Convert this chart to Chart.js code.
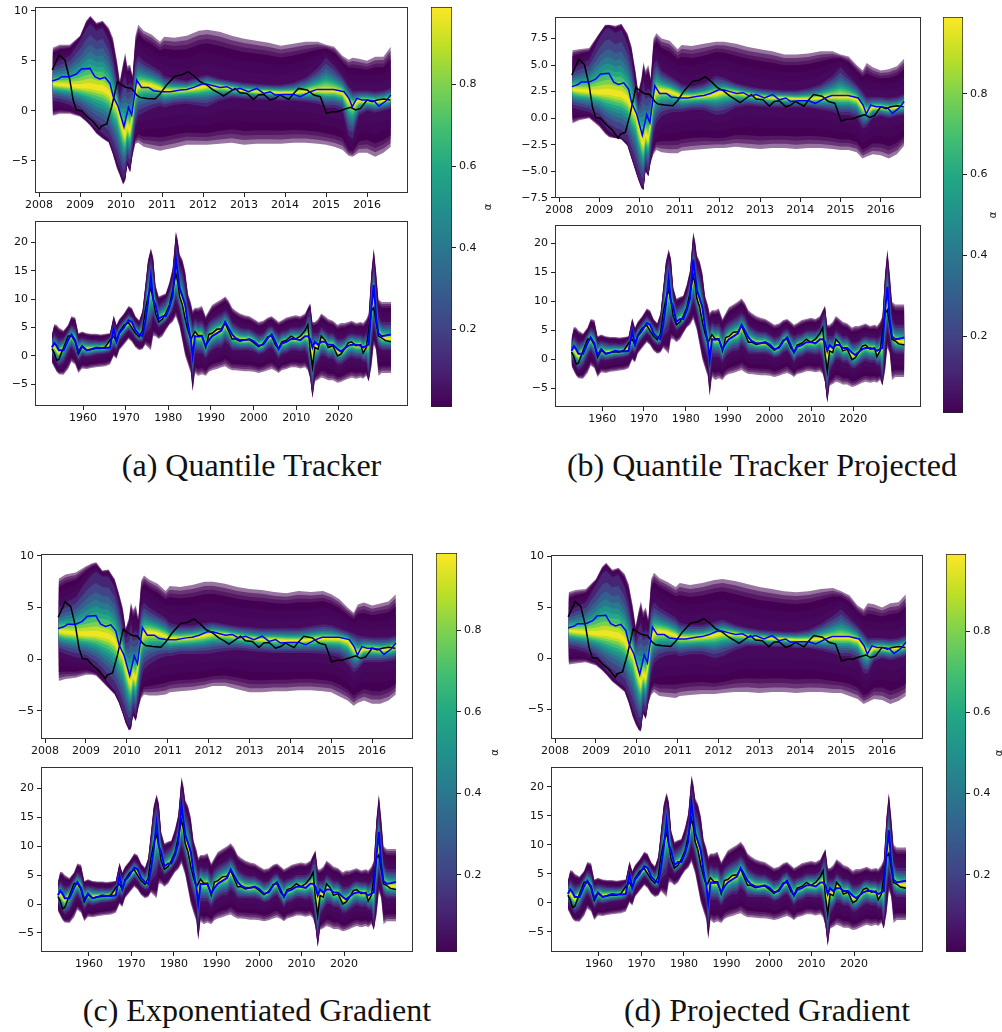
<!DOCTYPE html>
<html><head><meta charset="utf-8">
<script src="https://cdn.jsdelivr.net/npm/chart.js@4.4.1/dist/chart.umd.min.js"></script>
<style>
html,body{margin:0;padding:0;background:#fff;}
body{width:1002px;height:1032px;position:relative;overflow:hidden;}
canvas{position:absolute;}
.cap{position:absolute;font-family:"Liberation Serif","Times New Roman",serif;font-size:32px;line-height:32px;white-space:nowrap;color:#111;transform:translateX(-50%);}
</style></head><body>
<script>
// ---------------- DATA ----------------
// Top subplots (2008-2016)
const TOP_T = [2008.33,2008.5,2008.75,2009.0,2009.15,2009.25,2009.4,2009.55,2009.7,2009.8,2009.9,2009.97,2010.05,2010.1,2010.15,2010.22,2010.28,2010.35,2010.42,2010.55,2010.75,2010.95,2011.05,2011.3,2011.6,2011.9,2012.1,2012.4,2012.7,2013.0,2013.3,2013.6,2013.9,2014.2,2014.5,2014.8,2015.0,2015.2,2015.4,2015.55,2015.65,2015.8,2016.0,2016.2,2016.4,2016.58];
const TOP_CORE = [2.7,2.6,2.5,2.4,2.4,2.4,2.3,2.2,1.8,1.0,0.5,-0.8,-2.0,-2.5,-1.5,-2.0,-0.5,2.0,2.5,2.6,2.5,2.2,2.0,2.0,2.1,2.3,2.5,2.4,2.2,2.0,1.9,1.9,1.8,1.8,1.9,2.0,2.0,2.0,1.8,1.0,0.6,1.0,1.0,0.9,1.0,1.2];

const TOP_UP_A = [6.3,6.6,6.6,7.5,9.0,9.5,8.8,9.0,8.3,7.3,5.0,3.0,4.8,5.8,4.5,4.6,3.5,7.5,8.6,8.0,7.6,6.9,7.4,7.3,7.5,8.0,8.1,7.9,7.5,7.2,7.0,6.8,6.5,6.7,6.9,6.9,6.6,6.4,5.5,5.1,5.3,5.2,5.0,5.4,5.4,6.4];
const TOP_LO_A = [-0.5,-0.3,-0.3,-0.6,-1.1,-1.5,-2.3,-2.8,-3.2,-4.4,-5.8,-6.5,-7.4,-7.0,-5.5,-6.2,-4.5,-3.3,-3.2,-3.6,-3.8,-4.0,-3.9,-3.7,-3.4,-3.4,-3.4,-3.3,-3.2,-3.4,-3.3,-3.3,-3.3,-3.2,-3.2,-3.3,-3.4,-3.6,-3.9,-4.5,-4.6,-4.2,-4.2,-4.6,-4.2,-3.6];
const TOP_BUP_A = [4.6,5.0,5.5,7.0,8.2,8.7,8.0,8.3,7.0,5.5,3.0,1.5,3.0,3.5,2.5,2.8,2.5,5.0,5.5,5.0,4.5,4.0,3.5,3.2,3.0,3.4,3.6,3.2,3.0,2.8,2.7,2.6,2.6,2.8,3.3,4.3,5.3,4.5,3.5,2.5,2.0,2.0,2.0,1.9,2.0,2.3];
const TOP_BLO_A = [1.0,0.9,0.6,0.0,-0.7,-1.2,-1.8,-2.3,-2.8,-3.8,-5.0,-5.8,-6.8,-6.5,-5.0,-5.6,-3.8,-1.5,-0.5,-0.2,0.2,0.5,0.3,0.6,0.7,0.5,0.4,1.0,1.3,1.2,1.1,1.1,1.0,1.0,0.9,0.7,0.3,0.3,0.0,-2.5,-2.8,-0.5,0.0,-0.2,0.0,0.2];

const TOP_UP_B = [6.4,6.5,6.6,8.0,8.8,8.8,8.7,8.9,8.0,6.8,4.5,2.5,3.8,5.3,4.5,5.0,3.8,7.5,8.0,7.5,7.3,6.5,6.9,6.8,7.0,7.2,7.2,7.0,6.7,6.5,6.3,6.0,6.0,6.1,6.3,6.3,6.0,5.8,5.0,4.5,5.2,4.8,4.5,4.6,4.9,5.6];
const TOP_LO_B = [-0.5,-0.2,0.0,-0.8,-1.5,-1.8,-1.9,-2.0,-2.6,-3.8,-5.0,-5.8,-6.6,-6.8,-5.0,-5.5,-4.2,-3.4,-3.0,-3.2,-3.3,-3.3,-3.1,-3.0,-2.9,-2.8,-2.8,-2.7,-2.8,-2.9,-2.8,-2.8,-2.9,-2.8,-2.8,-2.9,-3.0,-3.0,-3.2,-3.8,-3.6,-3.4,-3.5,-3.8,-3.4,-2.6];
const TOP_BUP_B = [4.6,5.0,5.5,7.5,8.4,8.5,8.0,8.3,7.0,5.5,3.0,1.5,2.5,3.5,2.5,2.8,2.5,5.0,5.5,4.5,4.0,3.5,3.2,3.0,3.3,4.0,3.8,3.3,3.0,2.8,2.7,2.6,2.6,2.8,3.2,4.0,4.8,4.0,3.2,2.5,2.0,2.0,2.0,1.9,2.0,2.3];
const TOP_BLO_B = [1.0,0.8,0.6,0.0,-0.8,-1.2,-1.6,-1.8,-2.3,-3.5,-4.6,-5.5,-6.3,-6.5,-4.6,-5.2,-3.5,-1.5,-0.5,0.2,0.5,0.6,0.6,0.8,0.8,0.3,0.4,1.0,1.2,1.1,1.0,1.0,1.0,1.0,0.8,0.6,0.3,0.3,0.0,-1.0,-0.8,0.0,0.2,0.0,0.2,0.3];

const TOP_UP_C = [7.8,8.2,8.4,9.0,9.3,9.4,8.6,8.7,7.8,6.5,5.0,3.0,4.0,5.5,4.8,5.2,4.0,7.6,8.1,7.7,7.3,6.6,7.1,7.0,7.2,7.5,7.5,7.3,7.0,6.8,6.7,6.5,6.4,6.6,6.5,6.6,6.3,5.8,5.0,4.5,5.3,5.5,5.2,5.4,5.6,6.3];
const TOP_LO_C = [-2.1,-1.9,-1.8,-1.5,-1.5,-1.6,-2.2,-2.8,-3.4,-4.2,-5.3,-6.2,-6.9,-6.8,-5.5,-6.0,-4.8,-3.8,-3.4,-3.5,-3.5,-3.4,-3.2,-3.1,-3.0,-2.8,-2.6,-2.6,-2.9,-3.2,-3.2,-3.1,-3.1,-3.0,-3.0,-3.1,-3.2,-3.6,-4.0,-4.5,-4.2,-4.0,-4.3,-4.3,-4.0,-3.4];
const TOP_BUP_C = [5.0,5.5,6.0,7.5,8.2,8.5,8.0,8.0,7.0,5.5,3.5,2.0,2.5,3.5,2.5,2.8,2.5,5.0,5.5,5.0,4.5,4.0,3.5,3.3,3.3,3.5,3.6,3.4,3.2,3.1,3.0,3.0,3.0,3.0,3.2,3.4,3.3,3.0,2.7,2.5,2.3,2.2,2.1,2.1,2.1,2.3];
const TOP_BLO_C = [0.8,0.5,0.2,0.0,-0.5,-0.8,-1.5,-2.3,-3.0,-3.8,-5.0,-5.8,-6.5,-6.3,-5.0,-5.5,-4.0,-2.0,-1.0,-0.5,0.0,0.3,0.3,0.5,0.5,0.5,0.6,0.8,0.9,0.8,0.7,0.6,0.6,0.6,0.6,0.5,0.4,0.2,-0.5,-1.3,-1.0,-0.3,-0.3,-0.3,-0.2,-0.1];

const TOP_UP_D = [6.5,6.7,6.8,7.8,9.0,9.4,8.7,8.9,8.3,7.3,5.2,3.2,4.8,5.6,4.6,5.0,3.8,7.8,8.4,7.9,7.5,7.0,7.4,7.2,7.4,7.7,7.8,7.6,7.3,7.0,6.8,6.6,6.5,6.6,6.8,6.9,6.6,6.2,5.2,4.8,5.4,5.3,5.0,5.4,5.5,6.3];
const TOP_LO_D = [-0.6,-0.5,-0.4,-0.7,-1.2,-1.6,-2.3,-2.8,-3.3,-4.4,-5.8,-6.5,-7.1,-7.2,-5.5,-6.0,-4.5,-3.6,-3.3,-3.7,-3.8,-3.9,-3.7,-3.6,-3.5,-3.5,-3.4,-3.3,-3.3,-3.4,-3.3,-3.3,-3.4,-3.3,-3.3,-3.4,-3.4,-3.7,-4.0,-4.5,-4.3,-4.0,-4.1,-4.5,-4.2,-3.7];
const TOP_BUP_D = [4.6,5.0,5.5,7.2,8.3,8.6,8.0,8.2,7.0,5.5,3.2,1.8,3.0,3.5,2.5,2.8,2.5,5.0,5.5,5.0,4.5,4.0,3.5,3.3,3.3,3.6,3.8,3.3,3.0,2.8,2.7,2.6,2.6,2.8,3.4,4.2,4.8,4.0,3.2,2.5,2.0,2.0,2.0,1.9,2.0,2.3];
const TOP_BLO_D = [1.0,0.9,0.6,0.0,-0.7,-1.2,-1.8,-2.3,-2.8,-3.8,-5.0,-5.8,-6.6,-6.6,-5.0,-5.5,-3.8,-1.5,-0.5,0.0,0.3,0.4,0.2,0.4,0.4,0.0,0.2,0.8,1.2,1.2,1.1,1.1,1.0,1.0,0.8,0.5,0.2,0.2,-0.2,-1.5,-1.5,-0.3,0.0,-0.2,0.0,0.2];

const TOP_BLACK_T = [2008.32,2008.49,2008.63,2008.75,2008.83,2008.91,2009.03,2009.17,2009.32,2009.47,2009.52,2009.65,2009.77,2009.91,2010.02,2010.12,2010.26,2010.38,2010.46,2010.63,2010.83,2010.95,2011.11,2011.32,2011.48,2011.64,2011.8,2011.93,2012.09,2012.25,2012.37,2012.5,2012.66,2012.78,2012.9,2013.07,2013.23,2013.35,2013.48,2013.64,2013.76,2013.88,2014.09,2014.21,2014.33,2014.54,2014.7,2014.86,2015.01,2015.15,2015.27,2015.44,2015.6,2015.72,2015.84,2016.0,2016.13,2016.25,2016.41,2016.57];
const TOP_BLACK = [4.07,5.57,5.07,3.07,1.07,0.07,0.0,-0.6,-1.1,-1.87,-1.53,-1.33,0.4,2.9,2.57,2.33,2.23,1.57,1.33,1.23,1.17,1.67,2.57,3.47,3.57,3.9,3.4,2.9,2.57,2.07,1.8,1.47,1.9,2.23,1.8,1.73,1.13,1.57,1.63,1.07,1.23,1.57,1.13,1.73,2.23,2.07,1.57,1.4,-0.27,-0.1,-0.1,0.13,0.33,0.07,0.23,1.07,0.9,1.07,1.17,1.07];
const TOP_BLUE_T = [2008.32,2008.47,2008.55,2008.75,2008.91,2009.03,2009.24,2009.36,2009.48,2009.61,2009.73,2009.81,2009.93,2010.07,2010.18,2010.26,2010.38,2010.5,2010.67,2010.79,2011.0,2011.2,2011.45,2011.6,2011.77,2011.97,2012.09,2012.25,2012.42,2012.58,2012.74,2012.9,2013.11,2013.31,2013.48,2013.64,2013.76,2013.97,2014.21,2014.37,2014.62,2014.78,2015.19,2015.44,2015.56,2015.64,2015.75,2015.88,2016.0,2016.17,2016.29,2016.46,2016.58];
const TOP_BLUE = [2.97,3.17,3.4,3.4,3.67,4.17,4.23,3.4,3.17,3.33,2.73,1.4,0.4,-1.6,0.33,-0.43,3.07,2.33,2.33,2.0,1.9,1.9,2.07,2.13,2.33,2.67,2.67,2.5,2.33,2.4,2.07,2.23,1.9,2.23,1.73,1.9,1.57,1.63,1.63,1.4,1.9,2.13,2.13,1.9,1.23,0.4,1.23,1.07,1.07,0.97,0.47,0.97,1.57];

// Bottom subplots, shared by all four panels (x in the axis units shown by the ticks)
const BOT_T = [1952.70,1953.24,1953.79,1954.33,1955.42,1956.51,1957.27,1958.15,1958.91,1959.78,1960.87,1961.96,1963.05,1964.13,1965.22,1966.31,1967.19,1967.84,1968.49,1969.58,1970.67,1971.43,1972.30,1973.17,1973.94,1974.59,1975.24,1975.90,1976.44,1976.99,1977.75,1978.62,1979.38,1980.25,1981.01,1981.77,1982.21,1982.64,1983.30,1983.95,1984.60,1985.26,1985.70,1986.24,1987.00,1987.87,1988.76,1989.52,1990.28,1991.37,1992.46,1993.32,1994.09,1994.96,1995.72,1996.81,1997.90,1998.99,2000.08,2001.17,2002.26,2003.34,2004.22,2005.09,2005.85,2006.61,2007.70,2008.79,2009.88,2010.97,2012.06,2012.71,2013.26,2013.80,2014.35,2015.11,2015.87,2016.74,2017.50,2018.59,2019.68,2020.44,2021.31,2022.18,2022.95,2024.04,2025.12,2025.67,2026.43,2026.98,2027.63,2028.17,2028.72,2029.27,2030.03,2030.90,2032.21];
const BOT_BLACK = [1.3,0.5,-0.8,-0.6,1.5,3.5,3.6,2.5,0.4,1.6,1.0,1.2,1.3,1.3,1.6,2.8,3.5,2.5,4.2,5.4,5.9,5.0,4.0,3.4,4.5,8.0,10.5,12.0,10.0,7.5,6.0,6.5,7.5,9.0,11.5,14.5,13.0,10.5,9.0,6.5,4.5,3.0,3.5,4.3,3.6,3.6,1.5,3.8,4.0,4.7,4.8,5.8,4.5,3.0,3.0,2.6,2.8,2.9,2.3,1.6,2.2,3.4,3.5,2.0,1.3,2.5,2.8,3.5,3.0,3.5,4.5,5.5,1.0,-2.0,1.5,1.2,3.5,2.8,1.5,1.8,0.0,0.3,1.2,2.3,2.5,1.8,2.0,0.5,1.5,4.5,8.0,8.5,6.0,3.5,3.2,2.7,2.5];
const BOT_BLUE = [1.5,2.3,1.8,1.0,1.0,2.8,3.8,2.8,0.8,1.8,1.0,1.2,1.5,1.4,1.4,1.5,4.8,2.6,4.0,5.0,6.3,6.0,4.5,3.8,3.5,6.0,9.5,14.0,10.0,9.0,6.5,7.0,7.0,8.5,10.5,17.2,14.5,12.0,10.5,9.0,5.5,3.0,0.0,3.5,3.4,3.5,1.8,2.8,3.5,4.0,4.5,6.0,5.0,3.8,3.2,2.8,2.8,3.0,2.6,1.8,2.0,3.2,3.8,2.5,1.2,2.2,2.5,3.0,3.0,2.8,3.5,3.5,3.0,1.5,2.5,2.0,2.5,2.5,2.0,2.0,1.2,0.8,1.3,1.8,2.0,2.0,1.8,1.5,1.8,2.0,8.5,12.5,7.0,4.0,3.5,3.6,3.8];
const BOT_CORE = [1.5,1.6,1.0,0.6,1.5,3.0,3.5,2.8,1.0,1.6,1.2,1.3,1.4,1.4,1.5,2.0,3.5,2.8,4.0,5.0,5.8,5.5,4.2,3.6,4.0,7.0,10.0,12.0,10.0,8.0,6.3,6.8,7.2,8.5,10.5,14.0,13.0,11.0,9.5,7.5,5.0,3.2,2.0,3.8,3.5,3.5,1.8,3.2,3.8,4.3,4.6,5.5,4.8,3.5,3.2,2.8,2.8,2.9,2.5,1.7,2.1,3.2,3.5,2.3,1.4,2.3,2.6,3.1,3.0,3.0,3.5,3.5,2.0,0.5,1.8,1.5,2.8,2.5,1.8,1.9,0.8,0.7,1.2,2.0,2.2,1.9,1.9,1.2,1.7,2.5,8.0,10.0,6.5,4.0,3.3,3.1,3.0];
const BOT_UP = [3.8,5.6,5.5,5.0,4.5,5.5,7.0,6.8,4.0,4.3,4.0,3.9,3.9,3.8,3.9,4.0,7.2,5.5,6.5,7.5,8.8,8.5,7.0,6.3,8.0,12.5,17.0,19.0,17.5,12.5,10.5,10.8,11.0,13.0,15.5,22.0,20.5,18.0,17.0,15.0,11.0,9.5,8.0,8.5,8.5,8.8,7.0,8.0,9.0,9.5,10.0,10.5,9.8,8.5,8.0,7.5,7.2,7.0,6.5,6.0,6.2,6.8,7.0,6.5,6.0,6.3,6.8,7.0,7.2,7.0,7.5,8.5,9.3,6.0,6.0,6.5,7.5,7.0,6.5,6.2,5.5,5.8,5.8,6.0,6.2,5.8,6.0,5.8,6.5,7.5,15.0,19.0,15.0,10.0,9.5,9.5,9.5];
const BOT_LO = [-1.2,-2.0,-2.8,-3.2,-3.3,-2.3,-1.0,-1.5,-3.0,-2.2,-2.3,-2.1,-2.0,-1.9,-1.8,-1.5,0.0,-0.5,1.0,2.0,3.0,2.5,1.5,1.0,1.2,2.0,1.5,1.0,3.5,3.5,3.0,3.5,4.5,5.5,6.0,7.0,6.0,5.0,2.5,0.0,-1.5,-3.0,-6.3,-3.0,-3.5,-3.2,-3.5,-2.8,-2.5,-2.3,-2.0,-1.8,-2.2,-2.5,-2.5,-2.6,-2.7,-2.7,-2.8,-3.0,-2.8,-2.5,-2.3,-2.6,-3.0,-2.5,-2.3,-2.0,-2.0,-2.2,-2.0,-2.5,-4.0,-7.5,-4.5,-4.2,-3.8,-4.0,-4.3,-4.3,-4.7,-4.6,-4.3,-4.0,-3.8,-4.0,-3.8,-4.0,-3.5,-4.5,-2.0,2.0,1.0,-3.5,-3.0,-3.0,-3.0];
const BOT_BUP = [3.0,4.0,3.5,3.0,3.2,4.5,5.5,5.0,3.0,3.2,3.0,2.8,2.8,2.7,2.8,3.5,6.0,4.5,5.5,6.5,7.5,7.0,6.0,5.3,7.0,11.0,15.5,17.5,15.5,11.0,9.0,9.5,10.0,11.5,14.0,20.0,18.5,16.0,15.0,12.5,9.0,7.0,5.5,6.5,6.0,6.2,5.0,6.0,6.5,7.0,7.5,8.0,7.5,6.0,5.5,5.0,4.8,4.8,4.3,3.8,4.0,5.0,5.3,4.5,4.0,4.3,4.5,5.0,5.0,5.0,5.5,7.5,8.0,4.0,4.0,4.0,5.0,4.5,4.0,4.0,3.0,3.0,3.2,3.8,4.0,3.8,3.8,3.5,4.0,5.0,13.0,17.0,12.0,7.0,6.0,6.0,6.0];
const BOT_BLO = [0.2,-0.5,-1.3,-1.8,-1.2,0.5,1.5,0.5,-1.0,0.0,-0.2,0.0,0.2,0.3,0.4,0.6,1.5,1.0,2.5,3.5,4.5,4.0,3.0,2.5,2.5,4.0,4.5,5.0,7.0,6.0,5.0,5.5,6.0,7.0,8.0,10.0,9.0,8.0,5.5,3.0,1.5,0.0,-4.5,0.5,0.5,0.5,-0.5,0.5,1.0,1.5,1.5,2.5,2.0,1.0,1.0,1.0,1.0,1.0,0.8,0.3,0.5,1.2,1.5,0.5,-0.5,0.3,0.5,1.0,1.0,0.8,1.0,0.0,-3.0,-6.5,-2.0,-1.0,0.0,0.0,-0.5,-0.5,-1.5,-1.5,-1.0,-0.5,-0.2,-0.5,-0.5,-1.0,-1.0,-4.0,2.0,5.5,3.5,1.5,1.0,1.0,1.0];

// Tick labels
const TOP_XTICKS = [2008,2009,2010,2011,2012,2013,2014,2015,2016];
const TOP_YTICKS = [-5,0,5,10];
const TOP_YTICKS_B = [-7.5,-5,-2.5,0,2.5,5,7.5];
const BOT_XTICKS = [1960,1970,1980,1990,2000,2010,2020];
const BOT_YTICKS = [-5,0,5,10,15,20];
const CBAR_TICKS = [0.2,0.4,0.6,0.8];
const CBAR_RANGE = [0.01,0.99];
const CAPTIONS = ['(a) Quantile Tracker','(b) Quantile Tracker Projected','(c) Exponentiated Gradient','(d) Projected Gradient'];

// ---------------- STYLE ----------------
const FONT = "'DejaVu Sans', sans-serif";
Chart.defaults.font.family = FONT;
const VIRIDIS = ['#440154','#482475','#414487','#355f8d','#2a788e','#21918c','#22a884','#44bf70','#7ad151','#bddf26','#fde725'];
function hex2rgb(h){return [parseInt(h.slice(1,3),16),parseInt(h.slice(3,5),16),parseInt(h.slice(5,7),16)];}
function viridis(v){v=Math.max(0,Math.min(1,v));const p=v*10,i=Math.min(9,Math.floor(p)),f=p-i;const a=hex2rgb(VIRIDIS[i]),b=hex2rgb(VIRIDIS[i+1]);return 'rgb('+a.map((c,k)=>Math.round(c+(b[k]-c)*f)).join(',')+')';}
const OUTER_F = [1.0,0.9,0.8,0.7,0.5,0.25];
const OUTER_COL = ['rgba(68,1,84,0.55)','rgba(68,1,84,0.55)','rgba(68,1,84,0.55)','#440154','#45065a','#46095d'];
const INNER_G = [1.0,0.82,0.67,0.55,0.45,0.36,0.28,0.2,0.13,0.06];
const INNER_V = [0.1,0.2,0.3,0.4,0.5,0.6,0.7,0.8,0.9,0.98];

const minus = v => (v<0 ? '\u2212' : '') ;
const fmt0 = v => minus(v)+String(Math.abs(v));
const fmt1 = v => minus(v)+Math.abs(v).toFixed(1);

function bandDatasets(T,U,L,C,BU,BL){
  const ds=[]; let order=1000;
  const pts = f => T.map((x,i)=>({x:x,y:f(i)}));
  const add=(up,lo,color)=>{
    const loIdx=ds.length;
    ds.push({data:lo,borderColor:'rgba(0,0,0,0)',borderWidth:0,pointRadius:0,fill:false,order:order});
    ds.push({data:up,borderColor:'rgba(0,0,0,0)',borderWidth:0,pointRadius:0,backgroundColor:color,fill:{target:loIdx},order:order});
    order-=1;
  };
  OUTER_F.forEach((f,k)=>add(pts(i=>BU[i]+f*(U[i]-BU[i])),pts(i=>BL[i]+f*(L[i]-BL[i])),OUTER_COL[k]));
  INNER_G.forEach((g,k)=>add(pts(i=>C[i]+g*(BU[i]-C[i])),pts(i=>C[i]+g*(BL[i]-C[i])),viridis(INNER_V[k])));
  return ds;
}
function lineDs(T,Y,color,w,order){
  return {data:T.map((x,i)=>({x:x,y:Y[i]})),borderColor:color,borderWidth:w,pointRadius:0,fill:false,order:order};
}
const framePlugin={id:'frame',afterDatasetsDraw(chart){const c=chart.ctx,a=chart.chartArea;c.save();c.strokeStyle='#333';c.lineWidth=1;c.strokeRect(Math.round(a.left)+0.5,Math.round(a.top)+0.5,Math.round(a.right-a.left)-1,Math.round(a.bottom-a.top)-1);c.restore();}};

function makeCanvas(l,t,w,h){const c=document.createElement('canvas');c.width=w;c.height=h;c.style.left=l+'px';c.style.top=t+'px';c.style.width=w+'px';c.style.height=h+'px';document.body.appendChild(c);return c;}

function axis(min,max,ticks,fmt,isX){
  const W=40,H=22;
  return {type:'linear',min:min,max:max,
    afterBuildTicks:s=>{s.ticks=ticks.map(v=>({value:v}));},
    afterFit:s=>{ if(isX) s.height=H; else s.width=W; },
    grid:{drawOnChartArea:false,drawTicks:true,tickLength:4,color:'#222',lineWidth:1},
    border:{display:false},
    ticks:{autoSkip:false,maxRotation:0,minRotation:0,padding:isX?2:3,color:'#111',font:{size:11},callback:v=>fmt(v)}};
}
function subplot(box,xr,yr,xt,yt,fy,datasets){
  const W=40,H=22,PT=10,PR=10;
  const [l,t,r,b]=box;
  const cv=makeCanvas(l-W,t-PT,(r-l)+W+PR,(b-t)+PT+H);
  new Chart(cv,{type:'line',data:{datasets:datasets},plugins:[framePlugin],
    options:{animation:false,responsive:false,events:[],parsing:false,normalized:true,
      layout:{padding:{top:PT,right:PR,left:0,bottom:0}},
      plugins:{legend:{display:false},tooltip:{enabled:false},filler:{propagate:false}},
      scales:{x:axis(xr[0],xr[1],xt,v=>String(v),true),y:axis(yr[0],yr[1],yt,fy,false)}}});
}
function colorbar(box,alphaX){
  const PT=10,PL=4;
  const [l,t,r,b]=box;
  const RW=alphaX-r+10;
  const cv=makeCanvas(l-PL,t-PT,(r-l)+PL+RW,(b-t)+2*PT);
  const cl=l-PL;
  new Chart(cv,{type:'bar',
    data:{labels:['α'],datasets:[{data:[CBAR_RANGE.slice()],borderColor:'#222',borderWidth:1,borderSkipped:false,barPercentage:1,categoryPercentage:1,
      backgroundColor:(ctx)=>{const ch=ctx.chart,a=ch.chartArea;if(!a)return VIRIDIS[0];const g=ch.ctx.createLinearGradient(0,a.bottom,0,a.top);VIRIDIS.forEach((c,i)=>g.addColorStop(i/10,c));return g;}}]},
    plugins:[{id:'alab',afterDraw(chart){const c=chart.ctx,a=chart.chartArea;c.save();c.translate(alphaX-cl,(a.top+a.bottom)/2);c.rotate(-Math.PI/2);c.font='10px '+FONT;c.fillStyle='#111';c.textAlign='center';c.textBaseline='middle';c.fillText('α',0,0);c.restore();}}],
    options:{animation:false,responsive:false,events:[],
      layout:{padding:{top:PT,bottom:PT,left:PL,right:0}},
      plugins:{legend:{display:false},tooltip:{enabled:false}},
      scales:{x:{display:false},
        y:{position:'right',min:CBAR_RANGE[0],max:CBAR_RANGE[1],
          afterBuildTicks:s=>{s.ticks=CBAR_TICKS.map(v=>({value:v}));},
          afterFit:s=>{s.width=RW;},
          grid:{drawOnChartArea:false,drawTicks:true,tickLength:4,color:'#222',lineWidth:1},
          border:{display:false},
          ticks:{padding:3,color:'#111',font:{size:11},callback:v=>v.toFixed(1)}}}}});
}
function caption(text,cx,baseline){const d=document.createElement('div');d.className='cap';d.textContent=text;d.style.left=cx+'px';d.style.top=(baseline-27)+'px';document.body.appendChild(d);}

// ---------------- LAYOUT ----------------
const TOP_XR=[2007.9,2017.0], BOT_XR=[1948.73,2036.2];
const PANELS=[
 {top:[35,7,408,193],topY:[-8.23,10.37],yt:TOP_YTICKS,fy:fmt0,bot:[35,221,408,406],botY:[-8.82,23.8],cb:[431,7,452,407],ax:488,cap:[251.5,476],
  U:TOP_UP_A,L:TOP_LO_A,BU:TOP_BUP_A,BL:TOP_BLO_A},
 {top:[555,17,921,198],topY:[-7.52,9.53],yt:TOP_YTICKS_B,fy:fmt1,bot:[555,225,921,407],botY:[-8.16,23.16],cb:[943,17,963,413],ax:993,cap:[762,476],
  U:TOP_UP_B,L:TOP_LO_B,BU:TOP_BUP_B,BL:TOP_BLO_B},
 {top:[41,554,413,739],topY:[-7.72,10.19],yt:TOP_YTICKS,fy:fmt0,bot:[41,767,413,952],botY:[-8.3,23.7],cb:[436,553,457,952],ax:495,cap:[257,1021],
  U:TOP_UP_C,L:TOP_LO_C,BU:TOP_BUP_C,BL:TOP_BLO_C},
 {top:[551,555,923,739],topY:[-7.93,10.15],yt:TOP_YTICKS,fy:fmt0,bot:[551,767,923,952],botY:[-8.5,23.4],cb:[946,554,966,952],ax:999,cap:[767,1021],
  U:TOP_UP_D,L:TOP_LO_D,BU:TOP_BUP_D,BL:TOP_BLO_D}
];
PANELS.forEach((p,k)=>{
  const topDs=bandDatasets(TOP_T,p.U,p.L,TOP_CORE,p.BU,p.BL).concat([
    lineDs(TOP_BLACK_T,TOP_BLACK,'#000000',1.5,1),lineDs(TOP_BLUE_T,TOP_BLUE,'#0000ff',1.5,0)]);
  subplot(p.top,TOP_XR,p.topY,TOP_XTICKS,p.yt,p.fy,topDs);
  const botDs=bandDatasets(BOT_T,BOT_UP,BOT_LO,BOT_CORE,BOT_BUP,BOT_BLO).concat([
    lineDs(BOT_T,BOT_BLACK,'#000000',1.5,1),lineDs(BOT_T,BOT_BLUE,'#0000ff',2,0)]);
  subplot(p.bot,BOT_XR,p.botY,BOT_XTICKS,BOT_YTICKS,fmt0,botDs);
  colorbar(p.cb,p.ax);
  caption(CAPTIONS[k],p.cap[0],p.cap[1]);
});
</script>
</body></html>
